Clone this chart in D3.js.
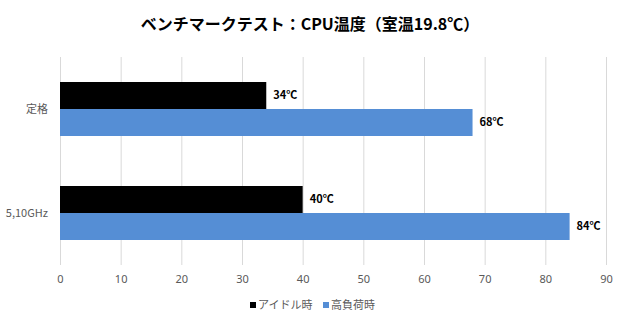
<!DOCTYPE html>
<html>
<head>
<meta charset="utf-8">
<script src="https://cdn.jsdelivr.net/npm/d3@7"></script>
<style>
  body { margin: 0; background: #fff; }
  text { font-family: "Noto Sans CJK JP", "Noto Sans", sans-serif; }
</style>
</head>
<body>
<div id="chart"></div>
<script>
const width = 620, height = 320;
const margin = {top: 57, right: 14, bottom: 55, left: 60};

// data
const categories = ["定格", "5,10GHz"];
const seriesNames = ["アイドル時", "高負荷時"];
const idleTemps = [34, 40];
const loadTemps = [68, 84];
const xTicks = [0, 10, 20, 30, 40, 50, 60, 70, 80, 90];
const colors = ["#000000", "#558ed5"];

const rows = categories.map((c, i) => ({cat: c, values: [idleTemps[i], loadTemps[i]]}));

const svg = d3.select("#chart").append("svg")
    .attr("width", width)
    .attr("height", height);

const x = d3.scaleLinear()
    .domain([0, 90])
    .range([margin.left, width - margin.right]);

const y0 = d3.scaleBand()
    .domain(categories)
    .range([margin.top, height - margin.bottom])
    .paddingInner(0)
    .paddingOuter(0);

const y1 = d3.scaleBand()
    .domain([0, 1])
    .range([0, y0.bandwidth()])
    .paddingInner(0)
    .paddingOuter(0.926);

// gridlines
svg.append("g")
    .selectAll("line")
    .data(xTicks)
    .enter()
    .append("line")
    .attr("x1", d => x(d) + 0.5)
    .attr("x2", d => x(d) + 0.5)
    .attr("y1", margin.top)
    .attr("y2", height - margin.bottom)
    .attr("stroke", "#d9d9d9")
    .attr("stroke-width", 1);

// x axis labels
const xAxis = d3.axisBottom(x).tickValues(xTicks).tickSize(0).tickPadding(10);
svg.append("g")
    .attr("transform", `translate(0, ${height - margin.bottom})`)
    .call(xAxis)
    .call(g => g.select(".domain").remove())
    .call(g => g.selectAll("text")
        .attr("fill", "#595959")
        .style("font-size", "11px")
        .style("font-family", "'Noto Sans', sans-serif"));

// y axis labels
const yAxis = d3.axisLeft(y0).tickSize(0).tickPadding(12);
svg.append("g")
    .attr("transform", `translate(${margin.left}, 0)`)
    .call(yAxis)
    .call(g => g.select(".domain").remove())
    .call(g => g.selectAll("text")
        .attr("fill", "#595959")
        .style("font-size", "11px"));

// bars
const groups = svg.append("g")
    .selectAll("g")
    .data(rows)
    .enter()
    .append("g")
    .attr("transform", d => `translate(0, ${y0(d.cat)})`);

groups.selectAll("rect")
    .data(d => d.values)
    .enter()
    .append("rect")
    .attr("x", x(0))
    .attr("y", (d, i) => y1(i))
    .attr("width", d => x(d) - x(0))
    .attr("height", y1.bandwidth())
    .attr("fill", (d, i) => colors[i]);

groups.selectAll("text.val")
    .data(d => d.values)
    .enter()
    .append("text")
    .attr("class", "val")
    .attr("x", d => x(d) + 7)
    .attr("y", (d, i) => y1(i) + y1.bandwidth() / 2)
    .attr("dy", "0.35em")
    .attr("font-size", "11px")
    .attr("font-weight", "bold")
    .attr("fill", "#000")
    .text(d => d + "℃");

// title
svg.append("text")
    .attr("x", 310)
    .attr("y", 24)
    .attr("dy", "0.35em")
    .attr("text-anchor", "middle")
    .attr("font-size", "16px")
    .attr("font-weight", "bold")
    .attr("fill", "#000")
    .text("ベンチマークテスト：CPU温度（室温19.8℃）");

// legend
const legend = svg.append("g")
    .attr("transform", "translate(250, 305)");
const legendX = [0, 73];
const items = legend.selectAll("g")
    .data(seriesNames)
    .enter()
    .append("g")
    .attr("transform", (d, i) => `translate(${legendX[i]}, 0)`);
items.append("rect")
    .attr("x", 0)
    .attr("y", -3)
    .attr("width", 6)
    .attr("height", 6)
    .attr("fill", (d, i) => colors[i]);
items.append("text")
    .attr("x", 8)
    .attr("y", 0)
    .attr("dy", "0.35em")
    .attr("font-size", "11px")
    .attr("fill", "#595959")
    .text(d => d);
</script>
</body>
</html>
